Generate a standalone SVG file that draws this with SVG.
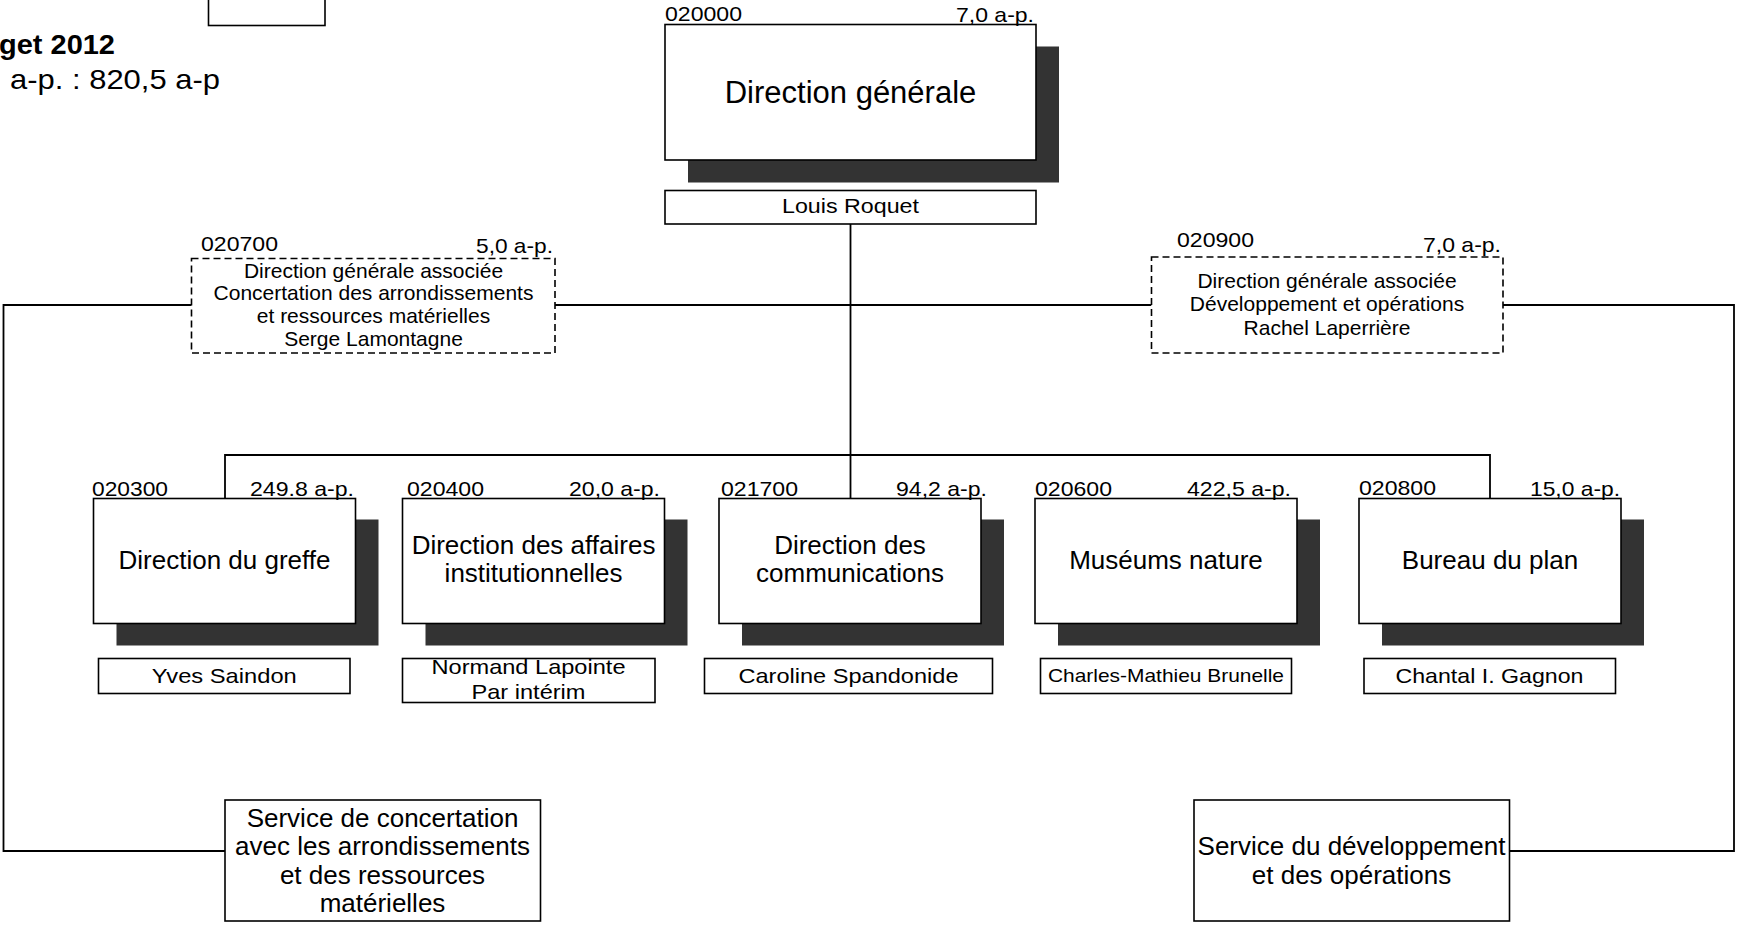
<svg xmlns="http://www.w3.org/2000/svg" width="1737" height="925" viewBox="0 0 1737 925">
<style>
text{font-family:"Liberation Sans",Arial,sans-serif;fill:#000}
.box{fill:#fff;stroke:#000;stroke-width:1.6}
.dash{fill:#fff;stroke:#000;stroke-width:1.6;stroke-dasharray:7,4}
.sh{fill:#333}
.ln{fill:none;stroke:#000;stroke-width:1.8}
.lbl{font-size:21px}
.ttl{font-size:26px;text-anchor:middle}
.nm{font-size:21px;text-anchor:middle}
.dt{font-size:21px;text-anchor:middle}
.end{text-anchor:end}
</style>
<g id="header">
<rect class="box" x="208.5" y="-2" width="116.5" height="27.5"/>
<text x="-1" y="54" font-size="27" font-weight="bold" textLength="116" lengthAdjust="spacingAndGlyphs">get 2012</text>
<text x="10" y="89" font-size="28" textLength="210" lengthAdjust="spacingAndGlyphs">a-p. : 820,5 a-p</text>
</g>
<g id="connectors">
<path class="ln" d="M850.5,224 V498.5"/>
<path class="ln" d="M225,498.5 V455 H1490 V498.5"/>
<path class="ln" d="M555,305 H1151.5"/>
<path class="ln" d="M191.5,305 H3.5 V851 H225"/>
<path class="ln" d="M1503,305 H1734 V851 H1509.5"/>
</g>
<g id="n020000">
<rect class="sh" x="688" y="46.5" width="371" height="136"/>
<rect class="box" x="665" y="24.5" width="371" height="135.5"/>
<text class="lbl" x="665" y="21" textLength="77" lengthAdjust="spacingAndGlyphs">020000</text>
<text class="lbl end" x="1034" y="22" textLength="78" lengthAdjust="spacingAndGlyphs">7,0 a-p.</text>
<text x="850.5" y="102.5" font-size="31" text-anchor="middle">Direction générale</text>
</g>
<g id="n020000-name">
<rect class="box" x="665" y="190.5" width="371" height="33.5"/>
<text class="nm" x="850.5" y="213" textLength="137" lengthAdjust="spacingAndGlyphs">Louis Roquet</text>
</g>
<g id="n020700">
<rect class="dash" x="191.5" y="258.5" width="363.5" height="94.5"/>
<text class="lbl" x="201" y="251" textLength="77" lengthAdjust="spacingAndGlyphs">020700</text>
<text class="lbl end" x="553" y="253" textLength="77" lengthAdjust="spacingAndGlyphs">5,0 a-p.</text>
<text class="dt" x="373.5" y="277.5">Direction générale associée</text>
<text class="dt" x="373.5" y="300.3">Concertation des arrondissements</text>
<text class="dt" x="373.5" y="323">et ressources matérielles</text>
<text class="dt" x="373.5" y="346">Serge Lamontagne</text>
</g>
<g id="n020900">
<rect class="dash" x="1151.5" y="257" width="351.5" height="96"/>
<text class="lbl" x="1177" y="247" textLength="77" lengthAdjust="spacingAndGlyphs">020900</text>
<text class="lbl end" x="1501" y="252" textLength="78" lengthAdjust="spacingAndGlyphs">7,0 a-p.</text>
<text class="dt" x="1327" y="287.5">Direction générale associée</text>
<text class="dt" x="1327" y="311">Développement et opérations</text>
<text class="dt" x="1327" y="334.5">Rachel Laperrière</text>
</g>
<g id="n020300">
<rect class="sh" x="116.5" y="519.5" width="262" height="126"/>
<rect class="box" x="93.5" y="498.5" width="262" height="125"/>
<text class="lbl" x="92" y="496" textLength="76" lengthAdjust="spacingAndGlyphs">020300</text>
<text class="lbl end" x="354" y="496" textLength="104" lengthAdjust="spacingAndGlyphs">249.8 a-p.</text>
<text class="ttl" x="224.5" y="569">Direction du greffe</text>
<rect class="box" x="98.5" y="658.5" width="251.5" height="35"/>
<text class="nm" x="224.3" y="683" textLength="145" lengthAdjust="spacingAndGlyphs">Yves Saindon</text>
</g>
<g id="n020400">
<rect class="sh" x="425.5" y="519.5" width="262" height="126"/>
<rect class="box" x="402.5" y="498.5" width="262" height="125"/>
<text class="lbl" x="407" y="496" textLength="77" lengthAdjust="spacingAndGlyphs">020400</text>
<text class="lbl end" x="660" y="496" textLength="91" lengthAdjust="spacingAndGlyphs">20,0 a-p.</text>
<text class="ttl" x="533.5" y="553.5">Direction des affaires</text>
<text class="ttl" x="533.5" y="582">institutionnelles</text>
<rect class="box" x="402.5" y="658.5" width="252.5" height="44"/>
<text class="nm" x="528.5" y="674" textLength="194" lengthAdjust="spacingAndGlyphs">Normand Lapointe</text>
<text class="nm" x="528.5" y="699" textLength="114" lengthAdjust="spacingAndGlyphs">Par intérim</text>
</g>
<g id="n021700">
<rect class="sh" x="742" y="519.5" width="262" height="126"/>
<rect class="box" x="719" y="498.5" width="262" height="125"/>
<text class="lbl" x="721" y="496" textLength="77" lengthAdjust="spacingAndGlyphs">021700</text>
<text class="lbl end" x="987" y="496" textLength="91" lengthAdjust="spacingAndGlyphs">94,2 a-p.</text>
<text class="ttl" x="850" y="553.5">Direction des</text>
<text class="ttl" x="850" y="582">communications</text>
<rect class="box" x="704.5" y="658.5" width="288" height="35"/>
<text class="nm" x="848.5" y="683" textLength="220" lengthAdjust="spacingAndGlyphs">Caroline Spandonide</text>
</g>
<g id="n020600">
<rect class="sh" x="1058" y="519.5" width="262" height="126"/>
<rect class="box" x="1035" y="498.5" width="262" height="125"/>
<text class="lbl" x="1035" y="496" textLength="77" lengthAdjust="spacingAndGlyphs">020600</text>
<text class="lbl end" x="1291" y="496" textLength="104" lengthAdjust="spacingAndGlyphs">422,5 a-p.</text>
<text class="ttl" x="1166" y="569">Muséums nature</text>
<rect class="box" x="1040.5" y="658.5" width="251" height="35"/>
<text x="1166" y="682" font-size="19" text-anchor="middle" textLength="236" lengthAdjust="spacingAndGlyphs">Charles-Mathieu Brunelle</text>
</g>
<g id="n020800">
<rect class="sh" x="1382" y="519.5" width="262" height="126"/>
<rect class="box" x="1359" y="498.5" width="262" height="125"/>
<text class="lbl" x="1359" y="495" textLength="77" lengthAdjust="spacingAndGlyphs">020800</text>
<text class="lbl end" x="1620" y="496" textLength="90" lengthAdjust="spacingAndGlyphs">15,0 a-p.</text>
<text class="ttl" x="1490" y="569">Bureau du plan</text>
<rect class="box" x="1364" y="658.5" width="251.5" height="35"/>
<text class="nm" x="1489.5" y="683" textLength="188" lengthAdjust="spacingAndGlyphs">Chantal I. Gagnon</text>
</g>
<g id="service-concertation">
<rect class="box" x="225" y="800" width="315.5" height="121"/>
<text class="ttl" x="382.5" y="827">Service de concertation</text>
<text class="ttl" x="382.5" y="855">avec les arrondissements</text>
<text class="ttl" x="382.5" y="883.5">et des ressources</text>
<text class="ttl" x="382.5" y="912">matérielles</text>
</g>
<g id="service-developpement">
<rect class="box" x="1194" y="800" width="315.5" height="121"/>
<text class="ttl" x="1351.5" y="855">Service du développement</text>
<text class="ttl" x="1351.5" y="883.5">et des opérations</text>
</g>
</svg>
